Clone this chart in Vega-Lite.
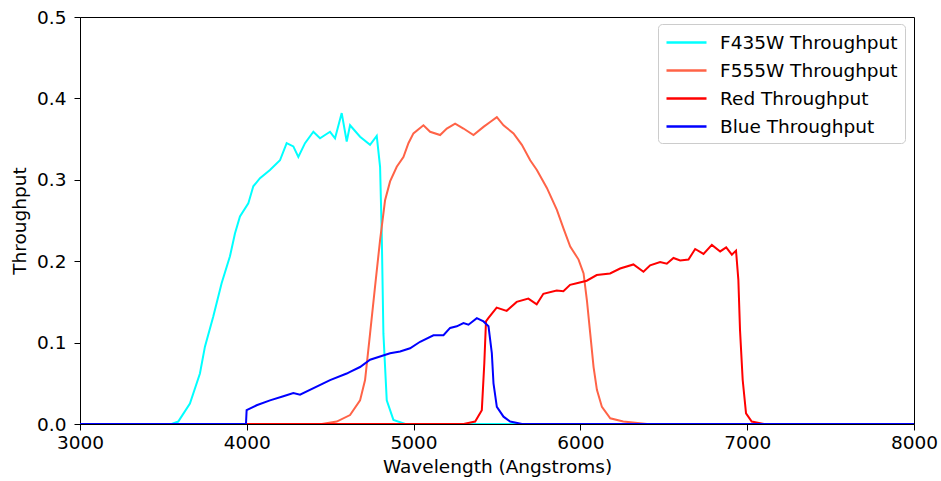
{
  "$schema": "https://vega.github.io/schema/vega-lite/v6.json",
  "width": 834,
  "height": 407,
  "autosize": {"type": "none"},
  "padding": {"left": 80, "top": 17, "right": 27, "bottom": 57},
  "background": "white",
  "config": {
    "font": "DejaVu Sans",
    "view": {"stroke": "black", "strokeWidth": 1},
    "axis": {"grid": false, "domainColor": "black", "tickColor": "black", "labelColor": "black", "titleColor": "black", "labelFontSize": 18.5, "titleFontSize": 18.5, "titleFontWeight": "normal", "tickSize": 6, "labelFont": "DejaVu Sans", "titleFont": "DejaVu Sans", "labelFlush": false}
  },
  "data": {"values": [
    {"s":"F435W Throughput","w":3000,"t":0},{"s":"F435W Throughput","w":3550,"t":0},{"s":"F435W Throughput","w":3589,"t":0.003},{"s":"F435W Throughput","w":3659,"t":0.025},{"s":"F435W Throughput","w":3719,"t":0.062},{"s":"F435W Throughput","w":3749,"t":0.095},{"s":"F435W Throughput","w":3799,"t":0.132},{"s":"F435W Throughput","w":3849,"t":0.173},{"s":"F435W Throughput","w":3899,"t":0.206},{"s":"F435W Throughput","w":3929,"t":0.234},{"s":"F435W Throughput","w":3959,"t":0.255},{"s":"F435W Throughput","w":4009,"t":0.271},{"s":"F435W Throughput","w":4039,"t":0.292},{"s":"F435W Throughput","w":4079,"t":0.302},{"s":"F435W Throughput","w":4139,"t":0.312},{"s":"F435W Throughput","w":4199,"t":0.324},{"s":"F435W Throughput","w":4239,"t":0.345},{"s":"F435W Throughput","w":4279,"t":0.341},{"s":"F435W Throughput","w":4309,"t":0.328},{"s":"F435W Throughput","w":4349,"t":0.345},{"s":"F435W Throughput","w":4399,"t":0.359},{"s":"F435W Throughput","w":4439,"t":0.351},{"s":"F435W Throughput","w":4499,"t":0.359},{"s":"F435W Throughput","w":4529,"t":0.351},{"s":"F435W Throughput","w":4569,"t":0.382},{"s":"F435W Throughput","w":4599,"t":0.347},{"s":"F435W Throughput","w":4619,"t":0.367},{"s":"F435W Throughput","w":4679,"t":0.353},{"s":"F435W Throughput","w":4739,"t":0.343},{"s":"F435W Throughput","w":4779,"t":0.354},{"s":"F435W Throughput","w":4799,"t":0.316},{"s":"F435W Throughput","w":4809,"t":0.234},{"s":"F435W Throughput","w":4819,"t":0.111},{"s":"F435W Throughput","w":4839,"t":0.029},{"s":"F435W Throughput","w":4879,"t":0.005},{"s":"F435W Throughput","w":4950,"t":0},{"s":"F435W Throughput","w":8000,"t":0},
    {"s":"F555W Throughput","w":3000,"t":0},{"s":"F555W Throughput","w":4450,"t":0},{"s":"F555W Throughput","w":4539,"t":0.003},{"s":"F555W Throughput","w":4619,"t":0.011},{"s":"F555W Throughput","w":4679,"t":0.029},{"s":"F555W Throughput","w":4709,"t":0.054},{"s":"F555W Throughput","w":4739,"t":0.111},{"s":"F555W Throughput","w":4769,"t":0.169},{"s":"F555W Throughput","w":4799,"t":0.226},{"s":"F555W Throughput","w":4829,"t":0.275},{"s":"F555W Throughput","w":4859,"t":0.298},{"s":"F555W Throughput","w":4899,"t":0.316},{"s":"F555W Throughput","w":4939,"t":0.328},{"s":"F555W Throughput","w":4969,"t":0.345},{"s":"F555W Throughput","w":4999,"t":0.357},{"s":"F555W Throughput","w":5059,"t":0.367},{"s":"F555W Throughput","w":5099,"t":0.359},{"s":"F555W Throughput","w":5159,"t":0.355},{"s":"F555W Throughput","w":5199,"t":0.363},{"s":"F555W Throughput","w":5249,"t":0.369},{"s":"F555W Throughput","w":5299,"t":0.363},{"s":"F555W Throughput","w":5359,"t":0.355},{"s":"F555W Throughput","w":5419,"t":0.365},{"s":"F555W Throughput","w":5459,"t":0.371},{"s":"F555W Throughput","w":5499,"t":0.377},{"s":"F555W Throughput","w":5539,"t":0.367},{"s":"F555W Throughput","w":5599,"t":0.357},{"s":"F555W Throughput","w":5649,"t":0.343},{"s":"F555W Throughput","w":5699,"t":0.324},{"s":"F555W Throughput","w":5739,"t":0.312},{"s":"F555W Throughput","w":5799,"t":0.29},{"s":"F555W Throughput","w":5859,"t":0.263},{"s":"F555W Throughput","w":5899,"t":0.24},{"s":"F555W Throughput","w":5939,"t":0.218},{"s":"F555W Throughput","w":5989,"t":0.202},{"s":"F555W Throughput","w":6019,"t":0.185},{"s":"F555W Throughput","w":6039,"t":0.152},{"s":"F555W Throughput","w":6059,"t":0.111},{"s":"F555W Throughput","w":6079,"t":0.07},{"s":"F555W Throughput","w":6099,"t":0.042},{"s":"F555W Throughput","w":6129,"t":0.021},{"s":"F555W Throughput","w":6179,"t":0.007},{"s":"F555W Throughput","w":6257,"t":0.003},{"s":"F555W Throughput","w":6400,"t":0},{"s":"F555W Throughput","w":8000,"t":0},
    {"s":"Red Throughput","w":3000,"t":0},{"s":"Red Throughput","w":5300,"t":0},{"s":"Red Throughput","w":5369,"t":0.003},{"s":"Red Throughput","w":5409,"t":0.017},{"s":"Red Throughput","w":5424,"t":0.075},{"s":"Red Throughput","w":5434,"t":0.126},{"s":"Red Throughput","w":5448,"t":0.13},{"s":"Red Throughput","w":5498,"t":0.143},{"s":"Red Throughput","w":5558,"t":0.139},{"s":"Red Throughput","w":5618,"t":0.15},{"s":"Red Throughput","w":5688,"t":0.154},{"s":"Red Throughput","w":5738,"t":0.147},{"s":"Red Throughput","w":5778,"t":0.16},{"s":"Red Throughput","w":5858,"t":0.164},{"s":"Red Throughput","w":5898,"t":0.163},{"s":"Red Throughput","w":5938,"t":0.171},{"s":"Red Throughput","w":5978,"t":0.173},{"s":"Red Throughput","w":6038,"t":0.176},{"s":"Red Throughput","w":6098,"t":0.183},{"s":"Red Throughput","w":6178,"t":0.185},{"s":"Red Throughput","w":6238,"t":0.191},{"s":"Red Throughput","w":6318,"t":0.196},{"s":"Red Throughput","w":6378,"t":0.187},{"s":"Red Throughput","w":6418,"t":0.195},{"s":"Red Throughput","w":6478,"t":0.199},{"s":"Red Throughput","w":6518,"t":0.197},{"s":"Red Throughput","w":6558,"t":0.204},{"s":"Red Throughput","w":6598,"t":0.201},{"s":"Red Throughput","w":6648,"t":0.202},{"s":"Red Throughput","w":6688,"t":0.215},{"s":"Red Throughput","w":6738,"t":0.209},{"s":"Red Throughput","w":6788,"t":0.22},{"s":"Red Throughput","w":6838,"t":0.212},{"s":"Red Throughput","w":6874,"t":0.217},{"s":"Red Throughput","w":6908,"t":0.208},{"s":"Red Throughput","w":6933,"t":0.213},{"s":"Red Throughput","w":6947,"t":0.177},{"s":"Red Throughput","w":6957,"t":0.115},{"s":"Red Throughput","w":6973,"t":0.054},{"s":"Red Throughput","w":6993,"t":0.013},{"s":"Red Throughput","w":7027,"t":0.003},{"s":"Red Throughput","w":7100,"t":0},{"s":"Red Throughput","w":8000,"t":0},
    {"s":"Blue Throughput","w":3000,"t":0},{"s":"Blue Throughput","w":3995,"t":0},{"s":"Blue Throughput","w":3999,"t":0.017},{"s":"Blue Throughput","w":4059,"t":0.023},{"s":"Blue Throughput","w":4139,"t":0.029},{"s":"Blue Throughput","w":4219,"t":0.034},{"s":"Blue Throughput","w":4279,"t":0.038},{"s":"Blue Throughput","w":4319,"t":0.036},{"s":"Blue Throughput","w":4459,"t":0.05},{"s":"Blue Throughput","w":4499,"t":0.054},{"s":"Blue Throughput","w":4599,"t":0.062},{"s":"Blue Throughput","w":4619,"t":0.064},{"s":"Blue Throughput","w":4679,"t":0.07},{"s":"Blue Throughput","w":4739,"t":0.079},{"s":"Blue Throughput","w":4859,"t":0.087},{"s":"Blue Throughput","w":4919,"t":0.089},{"s":"Blue Throughput","w":4979,"t":0.093},{"s":"Blue Throughput","w":5039,"t":0.101},{"s":"Blue Throughput","w":5119,"t":0.109},{"s":"Blue Throughput","w":5179,"t":0.109},{"s":"Blue Throughput","w":5219,"t":0.118},{"s":"Blue Throughput","w":5259,"t":0.12},{"s":"Blue Throughput","w":5299,"t":0.124},{"s":"Blue Throughput","w":5329,"t":0.122},{"s":"Blue Throughput","w":5379,"t":0.13},{"s":"Blue Throughput","w":5419,"t":0.126},{"s":"Blue Throughput","w":5449,"t":0.12},{"s":"Blue Throughput","w":5469,"t":0.087},{"s":"Blue Throughput","w":5479,"t":0.05},{"s":"Blue Throughput","w":5499,"t":0.021},{"s":"Blue Throughput","w":5539,"t":0.009},{"s":"Blue Throughput","w":5579,"t":0.003},{"s":"Blue Throughput","w":5650,"t":0},{"s":"Blue Throughput","w":8000,"t":0}
  ]},
  "mark": {"type": "line", "strokeWidth": 2, "clip": true},
  "encoding": {
    "x": {"field": "w", "type": "quantitative", "scale": {"domain": [3000, 8000], "nice": false, "zero": false}, "axis": {"title": "Wavelength (Angstroms)", "values": [3000, 4000, 5000, 6000, 7000, 8000], "format": "d", "labelPadding": 3, "titlePadding": 6}},
    "y": {"field": "t", "type": "quantitative", "scale": {"domain": [0, 0.5], "nice": false}, "axis": {"title": "Throughput", "values": [0, 0.1, 0.2, 0.3, 0.4, 0.5], "format": ".1f", "labelPadding": 8, "titlePadding": 7}},
    "color": {"field": "s", "type": "nominal", "sort": ["F435W Throughput", "F555W Throughput", "Red Throughput", "Blue Throughput"], "scale": {"domain": ["F435W Throughput", "F555W Throughput", "Red Throughput", "Blue Throughput"], "range": ["#00ffff", "#ff6347", "#ff0000", "#0000ff"]},
      "legend": {"title": null, "orient": "none", "legendX": 578, "legendY": 7, "symbolType": "M-1,0H3", "symbolSize": 400, "symbolStrokeWidth": 2.5, "labelFontSize": 18.5, "labelFont": "DejaVu Sans", "labelColor": "black", "labelOffset": 32, "labelLimit": 400, "rowPadding": 7, "padding": 7, "strokeColor": "#cccccc", "cornerRadius": 4, "fillColor": "white"}}
  }
}
